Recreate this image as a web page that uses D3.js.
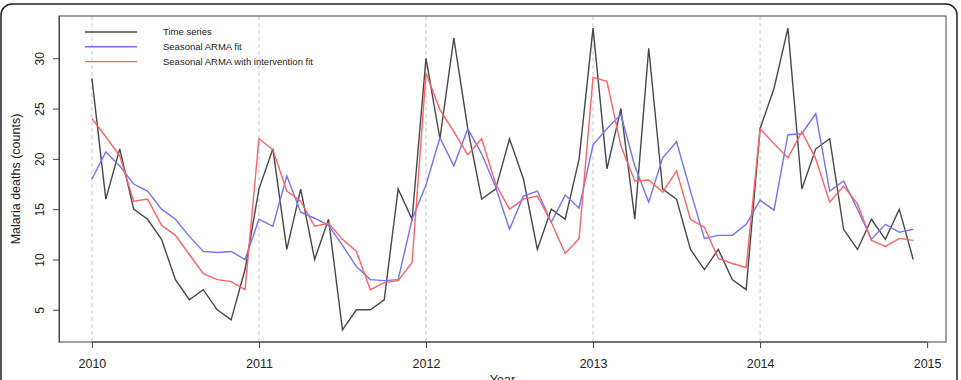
<!DOCTYPE html>
<html>
<head>
<meta charset="utf-8">
<script src="https://cdn.jsdelivr.net/npm/d3@7"></script>
<style>
  body { margin: 0; background: #fff; }
  text { font-family: "Liberation Sans", Arial, sans-serif; fill: #222; }
</style>
</head>
<body>
<div id="chart"></div>
<script>
const width = 961
const height = 380

// Datos mensuales ene 2010 - dic 2014
const startYear = 2010
const timeSeries = [
  28, 16, 21, 15, 14, 12, 8, 6, 7, 5, 4, 9,
  17, 21, 11, 17, 10, 14, 3, 5, 5, 6, 17, 14,
  30, 22, 32, 23, 16, 17, 22, 18, 11, 15, 14, 20,
  33, 19, 25, 14, 31, 17, 16, 11, 9, 11, 8, 7,
  23, 27, 33, 17, 21, 22, 13, 11, 14, 12, 15, 10
]
const armaFit = [
  18.0, 20.7, 19.3, 17.5, 16.8, 15.0, 14.0, 12.3, 10.8, 10.7, 10.8, 10.0,
  14.0, 13.3, 18.3, 14.7, 14.1, 13.4, 11.4, 9.3, 8.0, 7.9, 8.0, 14.0,
  17.4, 22.1, 19.3, 23.0, 20.5, 17.2, 13.0, 16.3, 16.8, 13.7, 16.4, 15.1,
  21.4, 23.0, 24.4, 19.3, 15.7, 20.1, 21.7, 16.8, 12.1, 12.4, 12.4, 13.5,
  15.9, 14.9, 22.4, 22.5, 24.5, 16.8, 17.8, 15.0, 12.0, 13.5, 12.7, 13.0
]
const interventionFit = [
  24.0, 22.2, 20.3, 15.8, 16.0, 13.4, 12.4, 10.5, 8.6, 8.0, 7.8, 7.0,
  22.0, 20.9, 16.8, 15.8, 13.3, 13.6, 12.0, 10.8, 7.0, 7.7, 7.9, 9.7,
  28.5, 24.9, 22.7, 20.4, 22.0, 17.5, 15.0, 16.0, 16.3, 13.7, 10.6, 12.1,
  28.1, 27.7, 21.3, 17.8, 17.9, 16.7, 18.8, 14.0, 13.2, 10.1, 9.6, 9.2,
  23.0, 21.5, 20.1, 22.7, 20.0, 15.7, 17.3, 15.5, 11.9, 11.3, 12.1, 11.9
]
const yearTicks = [2010, 2011, 2012, 2013, 2014, 2015]
const gridYears = [2010, 2011, 2012, 2013, 2014]
const valueTicks = [5, 10, 15, 20, 25, 30]
const legendLabels = ["Time series", "Seasonal ARMA fit", "Seasonal ARMA with intervention fit"]
const seriesColors = ["#474747", "#7272ff", "#ff6262"]

const margin = { top: 16, bottom: 38, left: 59, right: 15 }

const svg = d3.select("div#chart")
  .append("svg")
  .attr("width", width)
  .attr("height", height)

// marco redondeado exterior
svg.append("rect")
  .attr("x", 1).attr("y", 4)
  .attr("width", 956).attr("height", 420)
  .attr("rx", 11)
  .attr("fill", "none")
  .attr("stroke", "#222")
  .attr("stroke-width", 1.5)

const x = d3.scaleLinear()
  .domain([2009.803, 2015.113])
  .range([margin.left, width - margin.right])
const y = d3.scaleLinear()
  .domain([1.8, 34.2])
  .range([height - margin.bottom, margin.top])

const elementGroup = svg.append("g").attr("id", "elementGroup")

// lineas verticales discontinuas
elementGroup.selectAll("line.grid").data(gridYears)
  .join("line")
  .attr("class", "grid")
  .attr("x1", d => x(d)).attr("x2", d => x(d))
  .attr("y1", y.range()[0]).attr("y2", y.range()[1])
  .attr("stroke", "#c8c8c8")
  .attr("stroke-dasharray", "4,3")

const line = d3.line()
  .x((d, i) => x(startYear + i / 12))
  .y(d => y(d))

const allSeries = [timeSeries, armaFit, interventionFit]
elementGroup.selectAll("path.series").data(allSeries)
  .join("path")
  .attr("class", "series")
  .attr("d", d => line(d))
  .attr("fill", "none")
  .attr("stroke", (d, i) => seriesColors[i])
  .attr("stroke-width", 1.4)

// caja del grafico
svg.append("rect")
  .attr("x", x.range()[0]).attr("y", y.range()[1])
  .attr("width", x.range()[1] - x.range()[0])
  .attr("height", y.range()[0] - y.range()[1])
  .attr("fill", "none")
  .attr("stroke", "#444")

// Ejes
const xAxis = d3.axisBottom(x).tickValues(yearTicks).tickFormat(d3.format("d")).tickSize(6).tickSizeOuter(0)
const yAxis = d3.axisLeft(y).tickValues(valueTicks).tickSize(6).tickSizeOuter(0)

const xAxisGroup = svg.append("g")
  .attr("transform", `translate(0, ${y.range()[0]})`)
  .call(xAxis)
xAxisGroup.select(".domain")
  .attr("d", `M${x(2010)},0H${x(2015)}`)
  .attr("stroke", "#444")
xAxisGroup.selectAll(".tick line").attr("stroke", "#444")
xAxisGroup.selectAll(".tick text")
  .attr("y", 17)
  .attr("font-size", 12.5)
  .attr("font-family", "Liberation Sans, Arial, sans-serif")
  .attr("fill", "#222")

const yAxisGroup = svg.append("g")
  .attr("transform", `translate(${x.range()[0]}, 0)`)
  .call(yAxis)
yAxisGroup.select(".domain").attr("stroke", "#444")
yAxisGroup.selectAll(".tick line").attr("stroke", "#444")
yAxisGroup.selectAll(".tick text")
  .attr("x", null).attr("dy", null)
  .attr("text-anchor", "middle")
  .attr("transform", "translate(-19, 0) rotate(-90)")
  .attr("dy", "0.35em")
  .attr("font-size", 12)
  .attr("font-family", "Liberation Sans, Arial, sans-serif")
  .attr("fill", "#222")

// titulos de ejes
svg.append("text")
  .attr("transform", `translate(16, ${(y.range()[0] + y.range()[1]) / 2}) rotate(-90)`)
  .attr("text-anchor", "middle")
  .attr("dy", "0.35em")
  .attr("font-size", 12.5)
  .text("Malaria deaths (counts)")

// en la referencia el titulo queda cortado por el borde inferior
svg.append("text")
  .attr("x", (x.range()[0] + x.range()[1]) / 2)
  .attr("y", 384)
  .attr("text-anchor", "middle")
  .attr("font-size", 12.5)
  .text("Year")

// Leyenda
const legend = svg.append("g").attr("transform", "translate(85, 32)")
const items = legend.selectAll("g").data(legendLabels)
  .join("g")
  .attr("transform", (d, i) => `translate(0, ${i * 14.8})`)
items.append("line")
  .attr("x1", 0).attr("x2", 52)
  .attr("stroke", (d, i) => seriesColors[i])
  .attr("stroke-width", 1.4)
items.append("text")
  .attr("x", 78)
  .attr("dy", "0.35em")
  .attr("font-size", 9.5)
  .text(d => d)
</script>
</body>
</html>
